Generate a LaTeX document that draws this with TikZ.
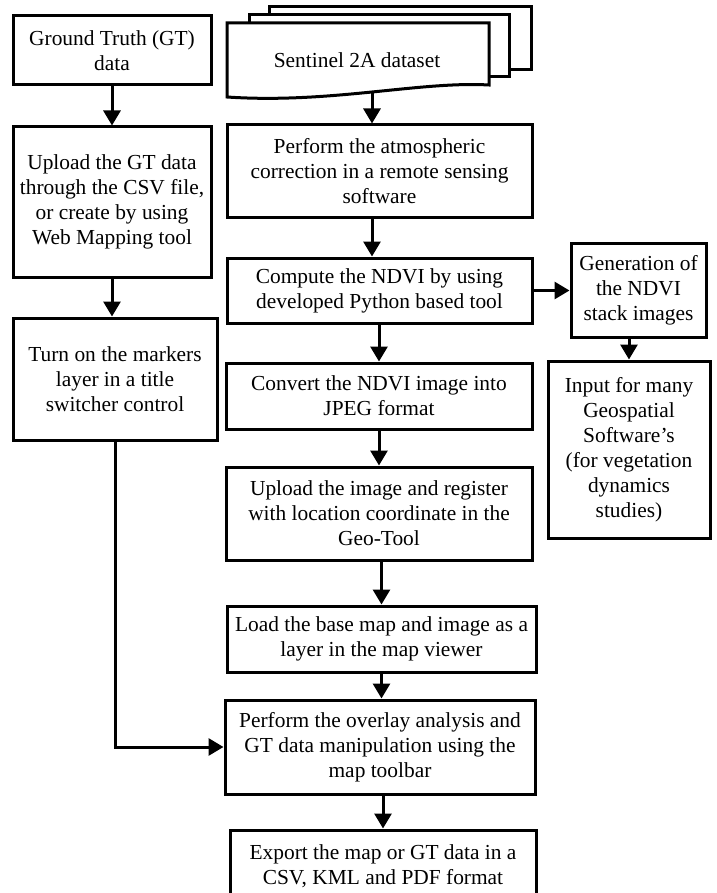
\documentclass[tikz,border=0pt]{standalone}
\usepackage{fontspec}
\setmainfont{Liberation Serif}
\usetikzlibrary{arrows.meta}
\begin{document}
\begin{tikzpicture}[x=1pt,y=-1pt,
  box/.style={draw, line width=3pt, fill=white, align=center, inner sep=0pt,
    font=\fontsize{21.4}{25}\selectfont},
  page/.style={draw, line width=3pt, fill=white},
  arr/.style={line width=3pt, -{Triangle[length=15pt,width=17pt]}}]
\useasboundingbox (0,0) rectangle (716,893);

% left column
\node[box, minimum width=198pt, minimum height=69pt] (gt) at (112,50.5) {Ground Truth (GT)\\data};
\node[box, minimum width=198pt, minimum height=150pt] (upl) at (112,202) {Upload the GT data\\through the CSV file,\\or create by using\\Web Mapping tool};
\node[box, minimum width=204pt, minimum height=122pt] (turn) at (115,379) {Turn on the markers\\layer in a title\\switcher control};

% Sentinel document stack
\draw[page] (269,7) rectangle (531,70);
\draw[page] (249,15) rectangle (509,77);
\draw[page] (227,23) -- (489,23) -- (489,85)
   .. controls (420,81) and (330,104) .. (227,97) -- cycle;
\node[font=\fontsize{21.4}{25}\selectfont, inner sep=0pt] (sent) at (357,60) {Sentinel 2A dataset};
\coordinate (senb) at (372,93);

% middle column
\node[box, minimum width=305pt, minimum height=93pt] (atm) at (379.5,171.5) {Perform the atmospheric\\correction in a remote sensing\\software};
\node[box, minimum width=305pt, minimum height=65pt] (comp) at (379.5,290.5) {Compute the NDVI by using\\developed Python based tool};
\node[box, minimum width=306pt, minimum height=66pt] (conv) at (379,396) {Convert the NDVI image into\\JPEG format};
\node[box, minimum width=306pt, minimum height=93pt] (uimg) at (379,513.5) {Upload the image and register\\with location coordinate in the\\Geo-Tool};
\node[box, minimum width=309pt, minimum height=66pt] (load) at (381.5,639) {Load the base map and image as a\\layer in the map viewer};
\node[box, minimum width=306pt, minimum height=72pt] (exp) at (383,866) {Export the map or GT data in a\\CSV, KML and PDF format};
\node[box, minimum width=310pt, minimum height=94pt] (ovl) at (380,747) {Perform the overlay analysis and\\GT data manipulation using the\\map toolbar};

% right column
\node[box, minimum width=135pt, minimum height=94pt] (gen) at (638.5,290) {Generation of\\the NDVI\\stack images};
\node[box, minimum width=162pt, minimum height=177pt] (inp) at (629,449.5) {Input for many\\Geospatial\\Software’s\\(for vegetation\\dynamics\\studies)};

% connectors
\draw[arr] (gt) -- (upl);
\draw[arr] (upl.south -| gt.south) -- (gt.south |- turn.north);
\draw[arr] (turn) |- (ovl);
\draw[arr] (senb) -- (senb |- atm.north);
\draw[arr] (senb |- atm.south) -- (senb |- comp.north);
\draw[arr] (conv.north |- comp.south) -- (conv.north);
\draw[arr] (comp.east) -- (comp.east -| gen.west);
\draw[arr] (inp.north |- gen.south) -- (inp.north);
\draw[arr] (conv) -- (uimg);
\draw[arr] (load.north |- uimg.south) -- (load.north);
\draw[arr] (load.south) -- (load.south |- ovl.north);
\draw[arr] (ovl.south -| exp.north) -- (exp.north);
\end{tikzpicture}
\end{document}
